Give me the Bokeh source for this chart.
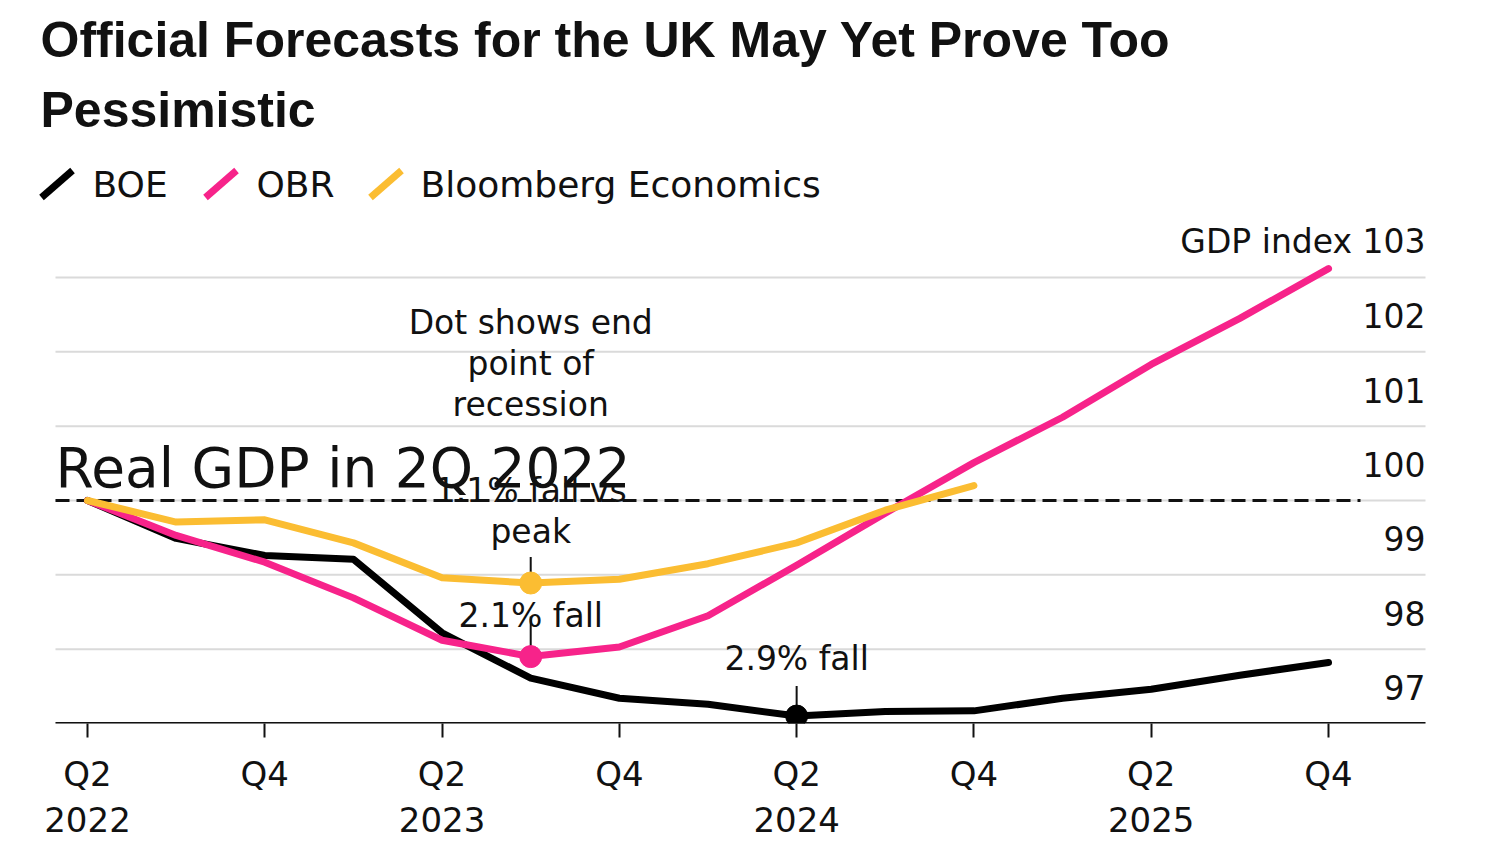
from bokeh.plotting import figure
from bokeh.models import Range1d, FixedTicker, LinearAxis
from bokeh.core.properties import value
from bokeh.embed import file_html
from bokeh.resources import INLINE

# ---------------- data ----------------
quarters = ["Q2 2022", "Q3 2022", "Q4 2022", "Q1 2023", "Q2 2023", "Q3 2023",
            "Q4 2023", "Q1 2024", "Q2 2024", "Q3 2024", "Q4 2024", "Q1 2025",
            "Q2 2025", "Q3 2025", "Q4 2025"]
boe = [100.0, 99.49, 99.26, 99.21, 98.22, 97.61, 97.34, 97.26, 97.10, 97.16,
       97.17, 97.34, 97.46, 97.65, 97.82]
obr = [100.0, 99.53, 99.17, 98.69, 98.12, 97.90, 98.03, 98.45, 99.13, 99.83,
       100.51, 101.12, 101.83, 102.45, 103.12]
bbg = [100.0, 99.71, 99.74, 99.43, 98.96, 98.89, 98.94, 99.15, 99.43, 99.87,
       100.20]
series_names = ["BOE", "OBR", "Bloomberg Economics"]
series_colors = ["#000000", "#f7238a", "#fbbd32"]
y_ticks = [97, 98, 99, 100, 101, 102, 103]
y_tick_labels = ["97", "98", "99", "100", "101", "102", "GDP index 103"]
x_tick_pos = [0, 2, 4, 6, 8, 10, 12, 14]
x_tick_labels = ["Q2", "Q4", "Q2", "Q4", "Q2", "Q4", "Q2", "Q4"]
year_pos = [0, 4, 8, 12]
year_labels = ["2022", "2023", "2024", "2025"]
baseline_value = 100
trough_labels = [["1.1% fall vs", "peak"], ["2.1% fall"], ["2.9% fall"]]

# ---------------- geometry ----------------
W, H = 1484, 840
FRAME_BOTTOM = 723
PX_Q = (1328 - 87) / 14.0
PX_V = (723 - 277) / 6.0


def X(px):
    return (px - 87) / PX_Q


def Y(py):
    return 97 + (723 - py) / PX_V


FONT = "DejaVu Sans"
INK = "#111111"

p = figure(width=W, height=H,
           x_range=Range1d(X(0), X(W)), y_range=Range1d(97, Y(0)),
           output_backend="svg", toolbar_location=None,
           x_axis_type=None, y_axis_type=None,
           min_border_left=0, min_border_right=0, min_border_top=0,
           min_border_bottom=H - FRAME_BOTTOM)
p.outline_line_color = None
p.background_fill_color = "white"
p.border_fill_color = "white"
p.xgrid.visible = False
p.ygrid.visible = False

# horizontal grid lines (limited extent)
p.segment(x0=[X(55)] * len(y_ticks), x1=[X(1425)] * len(y_ticks),
          y0=y_ticks, y1=y_ticks, line_color="#dadada", line_width=2)

# x axes
xa = LinearAxis(ticker=FixedTicker(ticks=x_tick_pos),
                major_label_overrides={k: v for k, v in zip(x_tick_pos, x_tick_labels)},
                axis_line_color=None,
                major_tick_in=0, major_tick_out=14, major_tick_line_width=2,
                major_tick_line_color=INK,
                minor_tick_line_color=None,
                major_label_text_font=FONT, major_label_text_font_size="34px",
                major_label_text_color=INK,
                major_label_standoff=16)
p.add_layout(xa, "below")
xa2 = LinearAxis(ticker=FixedTicker(ticks=year_pos),
                 major_label_overrides={k: v for k, v in zip(year_pos, year_labels)},
                 axis_line_color=None, major_tick_line_color=None,
                 minor_tick_line_color=None, major_tick_in=0, major_tick_out=0,
                 major_label_text_font=FONT, major_label_text_font_size="34px",
                 major_label_text_color=INK,
                 major_label_standoff=10)
p.add_layout(xa2, "below")

# axis baseline drawn as a line limited to the chart width
p.segment(x0=[X(55)], x1=[X(1425)], y0=[97], y1=[97], line_color=INK,
          line_width=3)


def txt(xs, ys, texts, fs, align="center", font=FONT, style="normal",
        extra_offset=0):
    p.text(x=xs, y=ys, text=texts, text_font=value(font),
           text_font_size=value("%dpx" % fs), text_align=align,
           text_baseline="alphabetic", text_color=INK,
           text_font_style=style, y_offset=extra_offset - round(0.35 * fs))


# y tick labels (above the grid lines, right aligned)
txt([X(1425)] * len(y_ticks), y_ticks, y_tick_labels, 33, align="right",
    extra_offset=-24)

# baseline dashed
p.line(x=[X(55), X(1360)], y=[baseline_value, baseline_value],
       line_color=INK, line_width=3, line_dash="14 7")

# series
xs_all = list(range(len(quarters)))
series = [boe, obr, bbg]
for vals, col in zip(series, series_colors):
    p.line(x=xs_all[:len(vals)], y=vals, line_color=col, line_width=7,
           line_join="round", line_cap="round")

# trough dots and ticks
tick_len_px = [30, 40, 26]
for si in [2, 1, 0]:
    vals = series[si]
    i = min(range(len(vals)), key=lambda j: vals[j])
    col = series_colors[si]
    p.segment(x0=[i], y0=[vals[i]], x1=[i], y1=[vals[i] + tick_len_px[si] / PX_V],
              line_color=INK, line_width=2)
    p.scatter(x=[i], y=[vals[i]], size=22, fill_color=col, line_color=col)

# annotation texts
txt([X(55)], [Y(486)], ["Real GDP in 2Q 2022"], 55, align="left")
txt([5, 5], [Y(502), Y(543)], trough_labels[0], 33)
txt([5], [Y(627)], trough_labels[1], 33)
txt([8], [Y(670)], trough_labels[2], 33)
txt([5, 5, 5], [Y(334), Y(375), Y(416)],
    ["Dot shows end", "point of", "recession"], 33)

# title
txt([X(40), X(40)], [Y(57), Y(127)],
    ["Official Forecasts for the UK May Yet Prove Too", "Pessimistic"],
    50, align="left", font="Liberation Sans", style="bold")

# legend
leg_x = [41, 205, 370]
leg_tx = [92, 256, 420]
for lx, tx, name, col in zip(leg_x, leg_tx, series_names, series_colors):
    p.segment(x0=[X(lx)], y0=[Y(197)], x1=[X(lx + 31)], y1=[Y(170)],
              line_color=col, line_width=7)
    txt([X(tx)], [Y(197)], [name], 36, align="left")

open("out.html", "w").write(file_html(p, INLINE))
